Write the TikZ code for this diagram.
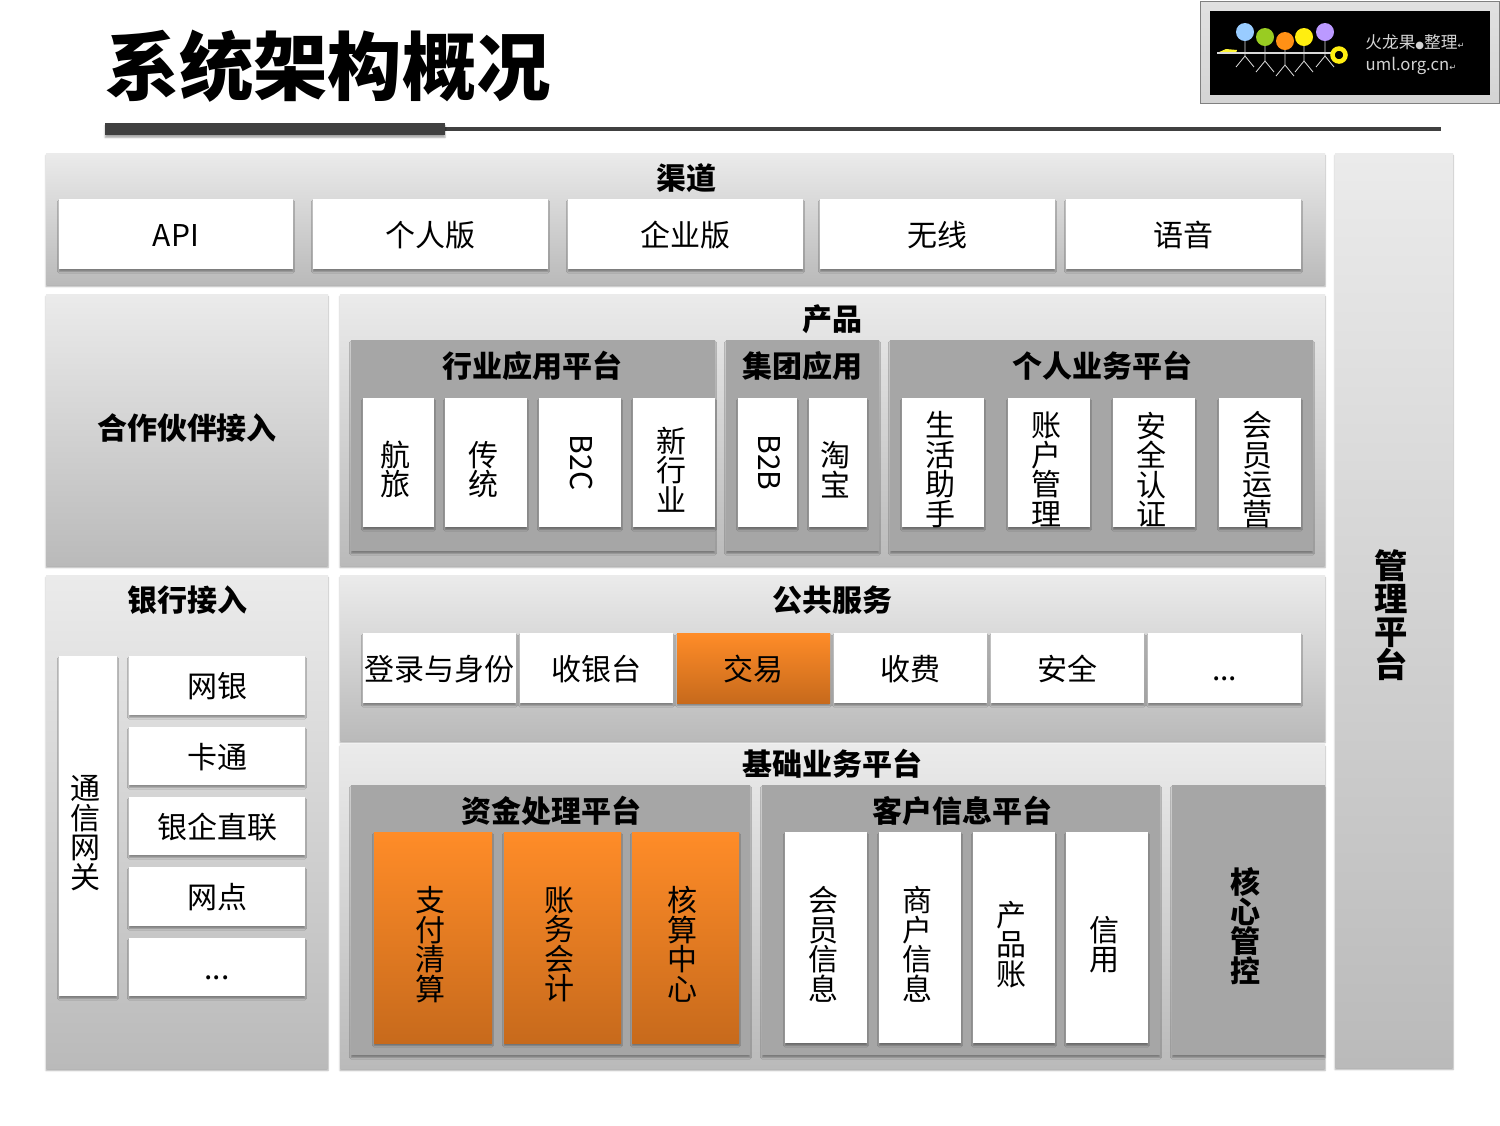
\documentclass[tikz,border=0pt]{standalone}
\usepackage{fontspec}
\usepackage{graphicx}
\setmainfont{Noto Sans CJK SC}
\newfontfamily\symfont{DejaVu Sans}
\usetikzlibrary{shadows.blur}
\definecolor{paneltop}{HTML}{EBEBEB}
\definecolor{panelbot}{HTML}{BABABA}
\definecolor{subgray}{HTML}{A6A6A6}
\definecolor{orangetop}{HTML}{FF8C28}
\definecolor{orangebot}{HTML}{C76A1C}
\definecolor{rulegray}{HTML}{404040}
\definecolor{logogray}{HTML}{D4D4D4}
\tikzset{
  wh/.style 2 args={minimum width=#1*.6pt,minimum height=#2*.6pt},
  softshadow/.style={blur shadow={shadow xshift=0pt,shadow yshift=-1.5pt,shadow blur radius=1pt,shadow opacity=35}},
  panel/.style={rectangle,inner sep=0pt,top color=paneltop,bottom color=panelbot,softshadow},
  subpanel/.style={rectangle,inner sep=0pt,fill=subgray,softshadow},
  whitebox/.style={rectangle,inner sep=0pt,fill=white,softshadow,font=\fontsize{18}{18}\selectfont},
  orangebox/.style={rectangle,inner sep=0pt,top color=orangetop,bottom color=orangebot,softshadow,font=\fontsize{18}{18}\selectfont},
  boxtext/.style={text height=17.1pt,text depth=2.16pt},
  vlabel/.style={inner sep=0pt,align=center,xshift=-1.8pt,yshift=-4.2pt,font=\fontsize{18}{17.7}\selectfont},
  vtext/.style={label={[vlabel]center:#1}},
  headlabel/.style={inner sep=0pt,font=\fontsize{18}{18}\selectfont\bfseries},
  boldstack/.style={inner sep=0pt,align=center,font=\fontsize{18}{17.7}\selectfont\bfseries},
}
\begin{document}
\lineskiplimit=-20pt
\begin{tikzpicture}[x=.6pt,y=-.6pt]
\useasboundingbox (0,0) rectangle (1500,1125);
% title and rule
\node[inner sep=0pt,font=\fontsize{44.6}{44.6}\selectfont\bfseries] (title) at (328,66) {系统架构概况};
\fill[rulegray] (445,127) rectangle (1441,131);
\node[rectangle,inner sep=0pt,fill=rulegray,softshadow,wh={340}{12}] (titlebar) at (275,129) {};
% logo
\node[rectangle,inner sep=0pt,top color=logogray!70!white,bottom color=logogray,draw=gray,wh={299}{102}] (logoframe) at (1350,52) {};
\node[rectangle,inner sep=0pt,fill=black,wh={280}{84}] (logoback) at (1350,53) {};
\fill[yellow!80!white] (1217,53) -- (1226,49) -- (1237,50) -- (1236,53) -- cycle;
\draw[white!85!black,line width=.7pt] (1217,53) -- (1335,53);
\definecolor{headblue}{HTML}{99CCFF}
\definecolor{headgreen}{HTML}{99CC22}
\definecolor{headorange}{HTML}{FF9015}
\definecolor{headyellow}{HTML}{FFEE10}
\definecolor{headviolet}{HTML}{BB99FF}
\foreach \px/\py/\pc in {1245/32/headblue,1265/37/headgreen,1285/41/headorange,1304/37/headyellow,1325/32/headviolet}{
  \draw[white!85!black,line width=.5pt] (\px,\py) -- (\px,\py+24) -- (\px-9,\py+35) (\px,\py+24) -- (\px+9,\py+35);
  \fill[\pc] (\px,\py) circle (9);
}
\draw[headyellow,line width=2.7pt] (1339,55) circle (6.5);
\node[inner sep=0pt,text=logogray,font=\fontsize{10}{10}\selectfont] (logotop) at (1415,42) {火龙果{\symfont\fontsize{6}{6}\selectfont●}整理{\symfont\fontsize{5}{5}\selectfont↵}};
\node[inner sep=0pt,text=logogray,font=\fontsize{10}{10}\selectfont] (logourl) at (1411,66) {uml.org.cn{\symfont\fontsize{5}{5}\selectfont↵}};
% channels
\node[panel,wh={1279}{131}] (channel) at (685.5,218.5) {};
\node[headlabel] (channeltext) at (686,178) {渠道};
\node[whitebox,boxtext,wh={234}{70}] (api) at (176,234) {API};
\node[whitebox,boxtext,wh={235}{70}] (personal) at (430.5,234) {个人版};
\node[whitebox,boxtext,wh={235}{70}] (enterprise) at (685.5,234) {企业版};
\node[whitebox,boxtext,wh={235}{70}] (wireless) at (937.5,234) {无线};
\node[whitebox,boxtext,wh={235}{70}] (voice) at (1183.5,234) {语音};
% partner access
\node[panel,wh={282}{271}] (partner) at (187,429.5) {};
\node[headlabel] (partnertext) at (187,428) {合作伙伴接入};
% products
\node[panel,wh={985}{271}] (product) at (832.5,429.5) {};
\node[headlabel] (producttext) at (832,319) {产品};
\node[subpanel,wh={364}{211}] (industry) at (533,445.5) {};
\node[headlabel] (industrytext) at (532.5,366) {行业应用平台};
\node[subpanel,wh={153}{211}] (group) at (802.5,445.5) {};
\node[headlabel] (grouptext) at (802.5,366) {集团应用};
\node[subpanel,wh={423}{211}] (personalbiz) at (1101.5,445.5) {};
\node[headlabel] (personalbiztext) at (1102,366) {个人业务平台};
\node[whitebox,wh={71}{129},vtext={航\\旅}] (travel) at (398.5,462.5) {};
\node[whitebox,wh={82}{129},vtext={传\\统}] (traditional) at (486,462.5) {};
\node[whitebox,wh={82}{129}] (btoc) at (580,462.5) {\hspace{1.8pt}\rotatebox{-90}{B2C}};
\node[whitebox,wh={82}{129},vtext={新\\行\\业}] (newindustry) at (674,462.5) {};
\node[whitebox,wh={59}{129}] (btob) at (767.5,462.5) {\hspace{1.8pt}\rotatebox{-90}{B2B}};
\node[whitebox,wh={58}{129},vtext={淘\\宝}] (taobao) at (838,462.5) {};
\node[whitebox,wh={82}{129},vtext={生\\活\\助\\手}] (assistant) at (943,462.5) {};
\node[whitebox,wh={82}{129},vtext={账\\户\\管\\理}] (account) at (1049,462.5) {};
\node[whitebox,wh={82}{129},vtext={安\\全\\认\\证}] (security) at (1154,462.5) {};
\node[whitebox,wh={82}{129},vtext={会\\员\\运\\营}] (member) at (1260,462.5) {};
% bank access
\node[panel,wh={282}{493}] (bank) at (187,821.5) {};
\node[headlabel] (banktext) at (187,600) {银行接入};
\node[whitebox,wh={58}{340},vtext={通\\信\\网\\关}] (gateway) at (88,826) {};
\node[whitebox,boxtext,wh={176}{59}] (ebank) at (217,685.5) {网银};
\node[whitebox,boxtext,wh={176}{58}] (card) at (217,756) {卡通};
\node[whitebox,boxtext,wh={176}{58}] (direct) at (217,826) {银企直联};
\node[whitebox,boxtext,wh={176}{59}] (outlet) at (217,896.5) {网点};
\node[whitebox,boxtext,wh={176}{58}] (bankmore) at (217,967) {...};
% public services
\node[panel,wh={985}{165}] (public) at (832.5,657.5) {};
\node[headlabel] (publictext) at (832,600) {公共服务};
\node[whitebox,boxtext,wh={153}{70}] (login) at (439.5,668) {登录与身份};
\node[whitebox,boxtext,wh={153}{70}] (cashier) at (596.5,668) {收银台};
\node[orangebox,boxtext,wh={153}{70}] (trade) at (753.5,668) {交易};
\node[whitebox,boxtext,wh={153}{70}] (charge) at (910.5,668) {收费};
\node[whitebox,boxtext,wh={153}{70}] (safety) at (1067.5,668) {安全};
\node[whitebox,boxtext,wh={153}{70}] (publicmore) at (1224.5,668) {...};
% basic business
\node[panel,wh={985}{324}] (basic) at (832.5,906) {};
\node[headlabel] (basictext) at (832,764) {基础业务平台};
\node[subpanel,wh={399}{270}] (funds) at (550.5,920) {};
\node[headlabel] (fundstext) at (551,811) {资金处理平台};
\node[subpanel,wh={398}{270}] (customer) at (961,920) {};
\node[headlabel] (customertext) at (962,811) {客户信息平台};
\node[subpanel,wh={153}{270}] (control) at (1248.5,920) {};
\node[boldstack] (controltext) at (1245,926) {核\\心\\管\\控};
\node[orangebox,wh={118}{211},vtext={支\\付\\清\\算}] (payment) at (433,937.5) {};
\node[orangebox,wh={117}{211},vtext={账\\务\\会\\计}] (ledger) at (562.5,937.5) {};
\node[orangebox,wh={107}{211},vtext={核\\算\\中\\心}] (accounting) at (685.5,937.5) {};
\node[whitebox,wh={82}{211},vtext={会\\员\\信\\息}] (memberinfo) at (826,937.5) {};
\node[whitebox,wh={82}{211},vtext={商\\户\\信\\息}] (merchant) at (920,937.5) {};
\node[whitebox,wh={82}{211},vtext={产\\品\\账}] (productacct) at (1014,937.5) {};
\node[whitebox,wh={82}{211},vtext={信\\用}] (credit) at (1107,937.5) {};
% management
\node[panel,wh={118}{914}] (manage) at (1394,610) {};
\node[boldstack,font=\fontsize{20}{19.8}\selectfont\bfseries] (managetext) at (1391,615) {管\\理\\平\\台};
\end{tikzpicture}
\end{document}
